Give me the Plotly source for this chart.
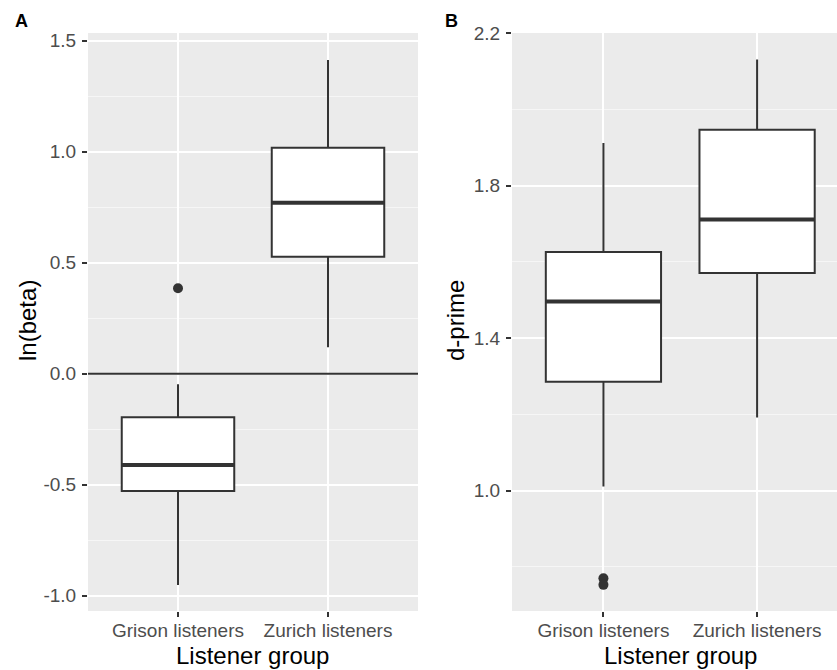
import plotly.graph_objects as go

# ---------------- data ----------------
categories = ["Grison listeners", "Zurich listeners"]

# Panel A: ln(beta)
a_lowerfence = [-0.952, 0.119]
a_q1 = [-0.528, 0.527]
a_median = [-0.411, 0.770]
a_q3 = [-0.196, 1.018]
a_upperfence = [-0.048, 1.413]
a_outlier_group = ["Grison listeners"]
a_outlier_value = [0.385]

# Panel B: d-prime
b_lowerfence = [1.011, 1.192]
b_q1 = [1.286, 1.571]
b_median = [1.496, 1.711]
b_q3 = [1.626, 1.947]
b_upperfence = [1.912, 2.131]
b_outlier_group = ["Grison listeners", "Grison listeners"]
b_outlier_value = [0.770, 0.753]

a_ticks = [1.5, 1.0, 0.5, 0.0, -0.5, -1.0]
a_ticktext = ["1.5", "1.0", "0.5", "0.0", "-0.5", "-1.0"]
a_minor = [1.25, 0.75, 0.25, -0.25, -0.75]
b_ticks = [2.2, 1.8, 1.4, 1.0]
b_ticktext = ["2.2", "1.8", "1.4", "1.0"]
b_minor = [2.0, 1.6, 1.2, 0.8]

# ---------------- style ----------------
W, H = 837, 670
FONT = "Liberation Sans, Arial, Helvetica, sans-serif"
DARK = "#333333"
BOXW = 0.75
pos = [i + 1 for i in range(len(categories))]
cat_pos = dict(zip(categories, pos))

fig = go.Figure()


def add_panel(xa, ya, lf, q1, med, q3, uf, og, ov):
    fig.add_trace(go.Box(
        x=pos, q1=q1, median=med, q3=q3, lowerfence=lf, upperfence=uf,
        width=BOXW, fillcolor="white", line=dict(color=DARK, width=2),
        boxpoints=False, whiskerwidth=0, xaxis=xa, yaxis=ya,
        showlegend=False, hoverinfo="skip"))
    mx, my = [], []
    for p, m in zip(pos, med):
        mx += [p - BOXW / 2, p + BOXW / 2, None]
        my += [m, m, None]
    fig.add_trace(go.Scatter(
        x=mx, y=my, mode="lines", line=dict(color=DARK, width=4),
        xaxis=xa, yaxis=ya, showlegend=False, hoverinfo="skip"))
    fig.add_trace(go.Scatter(
        x=[cat_pos[g] for g in og], y=ov, mode="markers",
        marker=dict(color=DARK, size=10), xaxis=xa, yaxis=ya,
        showlegend=False, hoverinfo="skip"))


add_panel("x", "y", a_lowerfence, a_q1, a_median, a_q3, a_upperfence,
          a_outlier_group, a_outlier_value)
add_panel("x2", "y2", b_lowerfence, b_q1, b_median, b_q3, b_upperfence,
          b_outlier_group, b_outlier_value)

BG = "#EBEBEB"
TICKFONT = dict(family=FONT, size=19, color="#4D4D4D")
common_x = dict(
    tickvals=pos, ticktext=categories, showgrid=True, gridcolor="white",
    gridwidth=2, zeroline=False, ticks="outside", ticklen=5, tickwidth=1.5,
    tickcolor=DARK, tickfont=TICKFONT, showline=False, fixedrange=True,
    automargin=False, ticklabelstandoff=-3)
common_y = dict(
    showgrid=True, gridcolor="white", gridwidth=2, zeroline=False,
    ticks="outside", ticklen=5, tickwidth=1.5, tickcolor=DARK,
    tickfont=TICKFONT, showline=False, ticklabelstandoff=2,
    automargin=False, fixedrange=True)


def px_x(p):
    return p / W


def px_y(p):
    return 1 - p / H


fig.update_layout(
    width=W, height=H, margin=dict(l=0, r=0, t=0, b=0, autoexpand=False),
    paper_bgcolor="white", plot_bgcolor=BG, showlegend=False,
    xaxis=dict(domain=[px_x(88), px_x(418)], range=[0.4, 2.6], anchor="y",
               **common_x),
    yaxis=dict(domain=[px_y(611), px_y(33)], range=[-1.0689, 1.5347],
               anchor="x", tickvals=a_ticks, ticktext=a_ticktext,
               minor=dict(tickvals=a_minor, showgrid=True,
                          gridcolor="#F6F6F6", gridwidth=1, ticks=""),
               **common_y),
    xaxis2=dict(domain=[px_x(512), 1.0], range=[0.405, 2.52], anchor="y2",
                **common_x),
    yaxis2=dict(domain=[px_y(611), px_y(33)], range=[0.6844, 2.2005],
                anchor="x2", tickvals=b_ticks, ticktext=b_ticktext,
                minor=dict(tickvals=b_minor, showgrid=True,
                           gridcolor="#F6F6F6", gridwidth=1, ticks=""),
                **common_y),
)

# Horizontal reference line at 0 in panel A
fig.add_shape(type="line", xref="x domain", yref="y", x0=0, x1=1, y0=0, y1=0,
              line=dict(color=DARK, width=2), layer="above")

ann = [
    dict(text="<b>A</b>", x=px_x(21), y=px_y(21), size=18, angle=0, color="black"),
    dict(text="<b>B</b>", x=px_x(451.5), y=px_y(20.5), size=18, angle=0, color="black"),
    dict(text="Listener group", x=px_x(252), y=px_y(655), size=24, angle=0, color="black"),
    dict(text="Listener group", x=px_x(680), y=px_y(655), size=24, angle=0, color="black"),
    dict(text="ln(beta)", x=px_x(27), y=px_y(321), size=24, angle=-90, color="black"),
    dict(text="d-prime", x=px_x(455), y=px_y(321), size=24, angle=-90, color="black"),
]
for a in ann:
    fig.add_annotation(text=a["text"], x=a["x"], y=a["y"], xref="paper",
                       yref="paper", showarrow=False, textangle=a["angle"],
                       xanchor="center", yanchor="middle",
                       font=dict(family=FONT, size=a["size"], color=a["color"]))

fig.write_html("out.html",
               config={"displayModeBar": False},
               post_script="document.body.style.margin='0px';"
                           "document.body.style.overflow='hidden';")
